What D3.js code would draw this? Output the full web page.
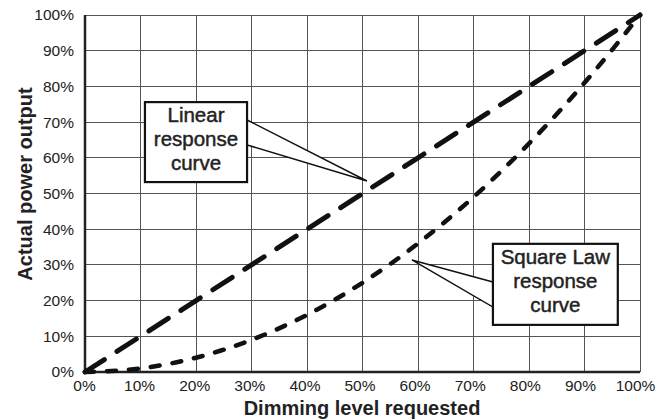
<!DOCTYPE html>
<meta charset="utf-8">
<style>
body { margin: 0; background: #fff; }
text { font-family: "Liberation Sans", Arial, sans-serif; fill: #222; }
.grid line { stroke: #555; stroke-width: 1; shape-rendering: crispEdges; }
.curve { fill: none; stroke: #111; stroke-linecap: round; }
.tick-label { font-size: 15.5px; }
</style>
<svg width="667" height="420"></svg>
<script src="https://cdn.jsdelivr.net/npm/d3@7"></script>
<script>

// dimming level (%) and the two responses (%)
let dimming = [0, 10, 20, 30, 40, 50, 60, 70, 80, 90, 100];
let linearOut = [0, 10, 20, 30, 40, 50, 60, 70, 80, 90, 100];
let squareOut = [0, 1, 4, 9, 16, 25, 36, 49, 64, 81, 100];
let tickValues = [0, 10, 20, 30, 40, 50, 60, 70, 80, 90, 100];

// callout text
let linearLabel = ["Linear", "response", "curve"];
let squareLabel = ["Square Law", "response", "curve"];

let svg = d3.select("svg"),
    margin = {top: 15, right: 27, bottom: 48, left: 85},
    width = svg.attr("width") - margin.left - margin.right,
    height = svg.attr("height") - margin.top - margin.bottom,
    g = svg.append("g").attr("transform", "translate(" + margin.left + "," + margin.top + ")");

let x = d3.scaleLinear().domain([0, 100]).range([0, width]),
    y = d3.scaleLinear().domain([0, 100]).range([height, 0]);

// x labels sit a touch left of their grid lines in the original
let xLabel = d3.scaleLinear().domain([0, 100]).range([-1, width - 5]);

// grid
let grid = g.append("g").attr("class", "grid");
grid.selectAll(".vx").data(tickValues).enter().append("line")
    .attr("x1", d => x(d)).attr("x2", d => x(d))
    .attr("y1", 0).attr("y2", height);
grid.selectAll(".hy").data(tickValues).enter().append("line")
    .attr("y1", d => y(d)).attr("y2", d => y(d))
    .attr("x1", 0).attr("x2", width);

// heavy axis lines (left and bottom)
g.append("line").attr("x1", 0).attr("x2", 0).attr("y1", 0).attr("y2", height)
    .attr("stroke", "#222").attr("stroke-width", 2.5);
g.append("line").attr("x1", 0).attr("x2", width).attr("y1", height).attr("y2", height)
    .attr("stroke", "#222").attr("stroke-width", 2.5);

// tick labels
let xAxis = d3.axisBottom(xLabel).tickValues(tickValues).tickFormat(d => d + "%").tickSize(0).tickPadding(0);
let xa = g.append("g")
    .attr("transform", "translate(0," + height + ")")
    .call(xAxis);
xa.select(".domain").remove();
xa.selectAll("text").attr("class", "tick-label").attr("fill", "#222")
    .attr("font-family", null).attr("font-size", null)
    .attr("dy", null).attr("y", 19);
xa.attr("font-family", null).attr("font-size", null);

let ya = g.append("g")
    .call(d3.axisLeft(y).tickValues(tickValues).tickFormat(d => d + "%").tickSize(0).tickPadding(11));
ya.select(".domain").remove();
ya.selectAll("text").attr("class", "tick-label").attr("fill", "#222");
ya.attr("font-family", null).attr("font-size", null);

// axis titles
svg.append("text")
    .attr("x", 362)
    .attr("y", 415)
    .attr("text-anchor", "middle")
    .style("font-size", "20px")
    .style("font-weight", "bold")
    .text("Dimming level requested");

svg.append("text")
    .attr("transform", "translate(32,184) rotate(-90)")
    .attr("text-anchor", "middle")
    .style("font-size", "20px")
    .style("font-weight", "bold")
    .text("Actual power output");

// curves
let line = d3.line()
    .x(d => x(d[0]))
    .y(d => y(d[1]));

g.append("path")
    .attr("class", "curve")
    .attr("d", line(dimming.map((d, i) => [d, linearOut[i]])))
    .attr("stroke-width", 5)
    .attr("stroke-dasharray", "23,15");

let curve = d3.line()
    .curve(d3.curveMonotoneX)
    .x(d => x(d[0]))
    .y(d => y(d[1]));

g.append("path")
    .attr("class", "curve")
    .attr("d", curve(dimming.map((d, i) => [d, squareOut[i]])))
    .attr("stroke-width", 4.5)
    .attr("stroke-dasharray", "9,13");

// callouts: box in data units, pointer tip and base on the box edge
function callout(lines, box, tip, base, side) {
    let c = g.append("g");
    let bx = side === "right" ? box.x1 : box.x0;
    c.append("polygon")
        .attr("points", [[x(bx), y(base[0])], [x(tip[0]), y(tip[1])], [x(bx), y(base[1])]].join(" "))
        .attr("fill", "#fff").attr("stroke", "#111").attr("stroke-width", 1.5)
        .attr("stroke-linejoin", "miter");
    c.append("rect")
        .attr("x", x(box.x0)).attr("y", y(box.y1))
        .attr("width", x(box.x1) - x(box.x0))
        .attr("height", y(box.y0) - y(box.y1))
        .attr("fill", "#fff").attr("stroke", "#111").attr("stroke-width", 2.2);
    let cx = (x(box.x0) + x(box.x1)) / 2,
        cy = (y(box.y0) + y(box.y1)) / 2;
    c.selectAll("text").data(lines).enter().append("text")
        .attr("x", cx)
        .attr("y", (d, i) => cy + (i - 1) * 24 + 3.5)
        .attr("text-anchor", "middle")
        .style("font-size", "20.5px")
        .style("stroke", "#222")
        .style("stroke-width", 0.45)
        .text(d => d);
}

callout(linearLabel, {x0: 10.8, x1: 29.2, y0: 53.2, y1: 75.6}, [50.8, 53.5], [70.6, 63.6], "right");
callout(squareLabel, {x0: 73.5, x1: 96, y0: 13.2, y1: 35.9}, [58.9, 31.4], [25.2, 18.2], "left");

</script>
